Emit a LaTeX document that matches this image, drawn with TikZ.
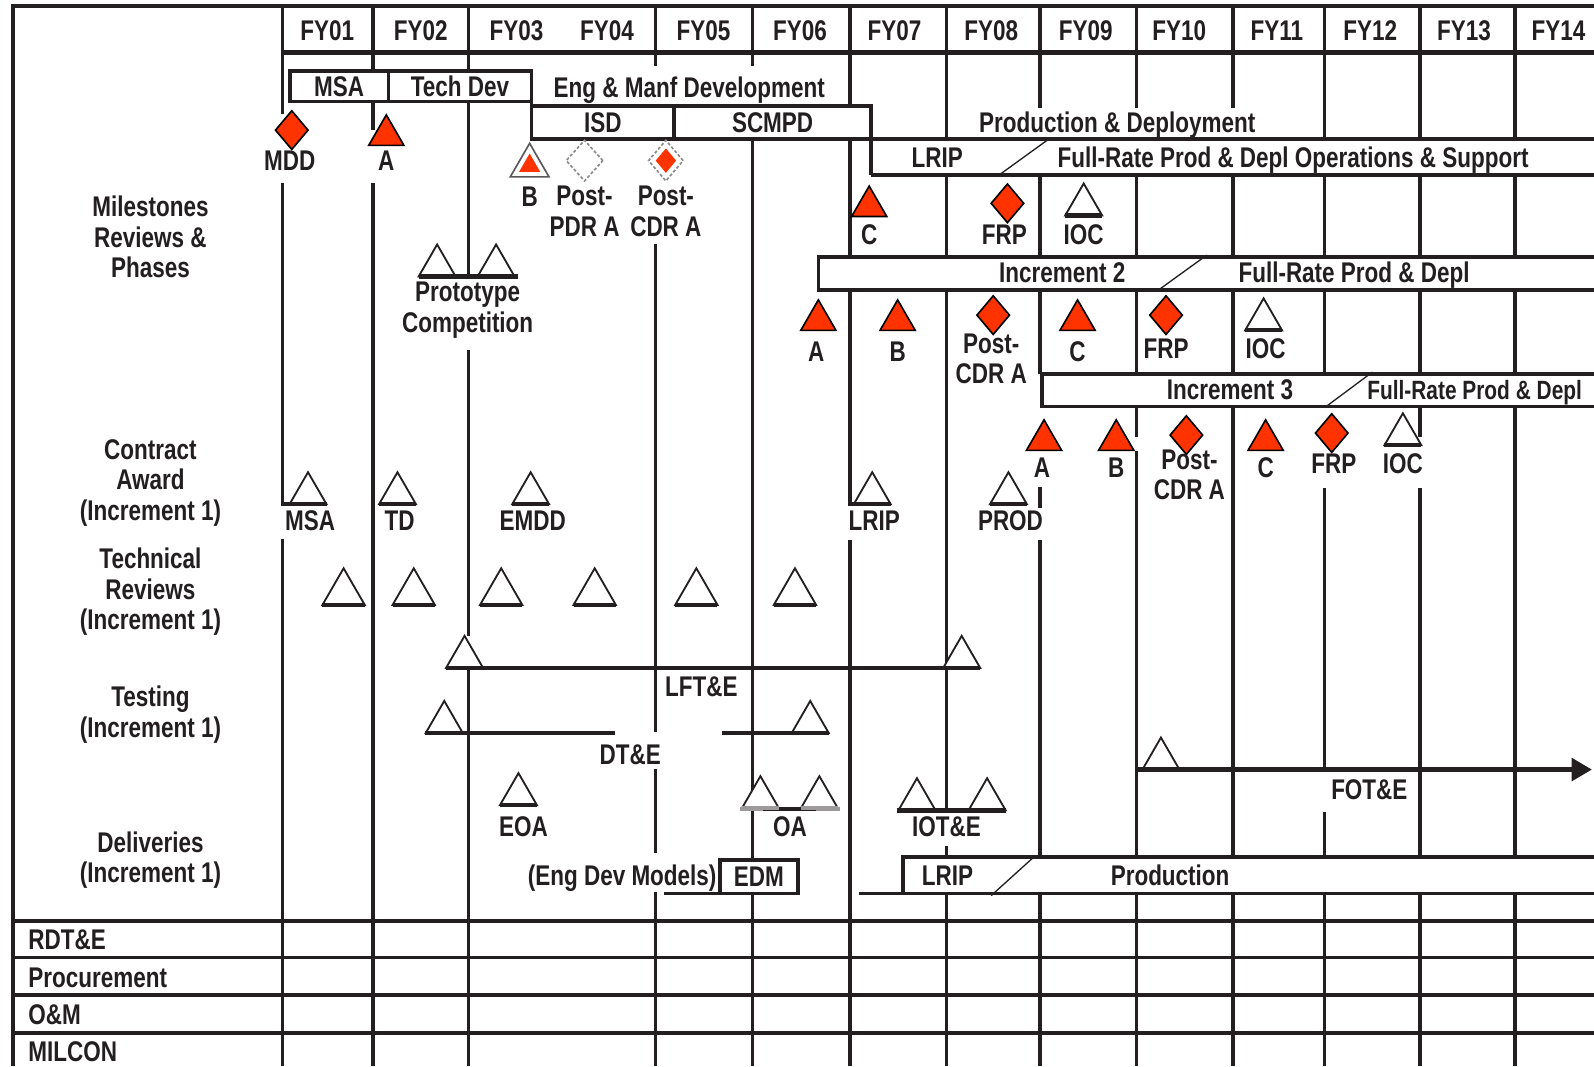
\documentclass[tikz,border=0pt]{standalone}
\usepackage{fontspec}
\setmainfont{Liberation Sans}[FakeStretch=0.79]
\usetikzlibrary{shapes.geometric,arrows.meta}
\definecolor{ink}{HTML}{231F20}
\definecolor{msred}{HTML}{FF3300}
\definecolor{dashgrey}{HTML}{8A8A8A}
\begin{document}
\begin{tikzpicture}[x=1pt,y=-1pt,
  every node/.style={inner sep=0pt, outer sep=0pt},
  lab/.style={font=\fontsize{28}{30}\selectfont\bfseries, text=ink, text height=20pt, text depth=0pt},
  mlab/.style={font=\fontsize{28}{30}\selectfont\bfseries, text=ink, align=center},
  gline/.style={draw=ink, line width=3.5pt},
  pbox/.style={draw=ink, line width=3.5pt, font=\fontsize{28}{30}\selectfont\bfseries, text=ink, text height=20pt, text depth=0pt},
  redtri/.style={regular polygon, regular polygon sides=3, minimum size=40pt, fill=msred, draw=black, line width=1.6pt},
  hollowtri/.style={regular polygon, regular polygon sides=3, minimum size=42pt, fill=white, draw=ink, line width=1.8pt},
  bigtri/.style={hollowtri, minimum size=48pt},
  reddia/.style={diamond, minimum width=32pt, minimum height=38pt, fill=msred, draw=black, line width=1.6pt},
  brk/.style={draw=ink, line width=1.3pt},
  tbar/.style={draw=ink, line width=4.5pt},
  tbase/.style={draw=ink, line width=4pt},
]
\useasboundingbox (0,0) rectangle (1568,1049);
\clip (0,0) rectangle (1568,1049);
\fill[white] (0,0) rectangle (1568,1049);

% ---------- frame and header ----------
\draw[gline, line width=4pt] (13,1049) -- (13,6) -- (1568,6);
\draw[gline, line width=5pt] (278,52) -- (1568,52);
\foreach \x in {278,367,461,645,740,836,931,1023,1118,1213,1303,1397,1490}
  \draw[gline] (\x,6) -- (\x,52);
\foreach \x/\t [count=\i] in {322/FY01,414/FY02,508/FY03,597/FY04,692/FY05,787/FY06,880/FY07,975/FY08,1068/FY09,1160/FY10,1256/FY11,1348/FY12,1440/FY13,1533/FY14}
  \node[lab] (fy\i) at (\x,30) {\t};

% ---------- column segments ----------
\foreach \x/\a/\b in {278/52/112, 278/530/1049,
  367/52/70, 367/100/128, 367/180/1049,
  461/52/70, 461/100/272, 461/344/626, 461/657/1049,
  645/52/65, 645/240/720, 645/756/839, 645/877/1049,
  740/52/65, 740/137/846, 740/879/1049,
  836/52/104, 836/137/253, 836/531/1049,
  931/52/137, 931/172/253, 931/285/797, 931/832/843, 931/879/1049,
  1023/52/106, 1023/172/253, 1023/285/368, 1023/479/500, 1023/531/843, 1023/879/1049,
  1118/52/106, 1118/172/253, 1118/285/368, 1118/400/430, 1118/444/843, 1118/879/1049,
  1213/52/106, 1213/172/253, 1213/285/368, 1213/400/843, 1213/879/1049,
  1303/52/137, 1303/172/253, 1303/285/368, 1303/480/757, 1303/799/843, 1303/879/1049,
  1397/52/137, 1397/172/253, 1397/285/368, 1397/400/430, 1397/480/843, 1397/879/1049,
  1490/52/137, 1490/172/253, 1490/285/368, 1490/400/843, 1490/879/1049}
  \draw[gline] (\x,\a) -- (\x,\b);
\draw[gline] (278,180) -- (278,496) -- (288,496);
\draw[gline] (836,285) -- (836,496) -- (842,496);

% ---------- funding rows ----------
\foreach \y in {906,942,979,1016}
  \draw[gline] (13,\y) -- (1568,\y);
\node[lab, anchor=west] (rdte) at (28,924) {RDT\&E};
\node[lab, anchor=west] (proc) at (28,961) {Procurement};
\node[lab, anchor=west] (oam) at (28,998) {O\&M};
\node[lab, anchor=west] (milcon) at (28,1034) {MILCON};

% ---------- row labels ----------
\node[mlab] (rMS) at (148,233) {Milestones\\Reviews \&\\Phases};
\node[mlab] (rCA) at (148,475) {Contract\\Award\\(Increment 1)};
\node[mlab] (rTR) at (148,582) {Technical\\Reviews\\(Increment 1)};
\node[mlab] (rTE) at (148,703) {Testing\\(Increment 1)};
\node[mlab] (rDL) at (148,846) {Deliveries\\(Increment 1)};

% ---------- phases ----------
\node[pbox, minimum width=97pt, minimum height=30pt] (msa) at (333.5,85) {MSA};
\node[pbox, minimum width=141pt, minimum height=30pt] (td) at (452.5,85) {Tech Dev};
\draw[gline] (td.north east) -- (523,137);
\node[lab] (emd) at (678,86) {Eng \& Manf Development};
\node[pbox, minimum width=140pt, minimum height=33pt] (isd) at (593,120.5) {ISD};
\node[pbox, minimum width=194pt, minimum height=33pt] (scmpd) at (760,120.5) {SCMPD};
\draw[gline] (scmpd.north east) -- (857,172);
\node[lab] (pd) at (1099,120) {Production \& Deployment};
\draw[gline] (857,137) -- (1568,137);
\draw[gline] (857,172) -- (1568,172);
\node[lab] (lrip1) at (922,155) {LRIP};
\node[lab] (frp1t) at (1272,155) {Full-Rate Prod \& Depl Operations \& Support};
\draw[brk] (983,172) -- (1030,138);

\draw[gline] (1568,253) -- (805,253) -- (805,285) -- (1568,285);
\node[lab] (inc2) at (1045,268) {Increment 2};
\node[lab] (inc2f) at (1332,268) {Full-Rate Prod \& Depl};
\draw[brk] (1140,285) -- (1187,251);

\draw[gline] (1568,368) -- (1025,368) -- (1025,400) -- (1568,400);
\node[lab] (inc3) at (1210,383) {Increment 3};
\node[lab, font=\fontsize{26}{28}\selectfont\bfseries, anchor=west] (inc3f) at (1345,383) {Full-Rate Prod \& Depl};
\draw[brk] (1303,401) -- (1350,366);

% ---------- milestones increment 1 ----------
\node[reddia] (mMDD) at (287,128) {};
\node[lab] (lMDD) at (285,158) {MDD};
\node[redtri] (mA1) at (380,133) {};
\node[lab] (lA1) at (380,158) {A};
\node[regular polygon, regular polygon sides=3, minimum size=44pt, fill=white, draw=ink!75, line width=1.6pt] (mB1) at (521,163) {};
\node[regular polygon, regular polygon sides=3, minimum size=24pt, fill=msred] (mB1in) at (521,163) {};
\node[lab] (lB1) at (521,193) {B};
\node[diamond, minimum width=36pt, minimum height=40pt, draw=dashgrey, densely dashed, line width=1.6pt] (mPDR) at (575,158) {};
\node[mlab] (lPDR) at (575,208) {Post-\\PDR A};
\node[diamond, minimum width=34pt, minimum height=40pt, draw=dashgrey, densely dashed, line width=1.6pt, fill=white] (mCDR1) at (655,158) {};
\node[diamond, minimum width=20pt, minimum height=24pt, fill=msred] (mCDR1in) at (655,158) {};
\node[mlab] (lCDR1) at (655,208) {Post-\\CDR A};
\node[redtri] (mC1) at (855,203) {};
\node[lab] (lC1) at (855,231) {C};
\node[reddia] (mF1) at (991,200) {};
\node[lab] (lF1) at (988,231) {FRP};
\node[hollowtri] (mI1) at (1066,201.5) {};
\node[lab] (lI1) at (1066,231) {IOC};

\node[hollowtri] (mP1) at (430,261.5) {};
\node[hollowtri] (mP2) at (488,261.5) {};
\draw[tbar] (418,272) -- (510,272);
\node[mlab] (lProto) at (460,305) {Prototype\\Competition};

% ---------- increment 2 ----------
\node[redtri] (mA2) at (805,315) {};
\node[lab] (lA2) at (803,346) {A};
\node[redtri] (mB2) at (883,315) {};
\node[lab] (lB2) at (883,346) {B};
\node[reddia] (mCDR2) at (977,310) {};
\node[mlab] (lCDR2) at (975,353) {Post-\\CDR A};
\node[redtri] (mC2) at (1060,315) {};
\node[lab] (lC2) at (1060,346) {C};
\node[reddia] (mF2) at (1147,310) {};
\node[lab] (lF2) at (1147,343) {FRP};
\node[hollowtri] (mI2) at (1243,314.5) {};
\node[lab] (lI2) at (1245,343) {IOC};

% ---------- increment 3 ----------
\node[redtri] (mA3) at (1027,433) {};
\node[lab] (lA3) at (1025,460) {A};
\node[redtri] (mB3) at (1098,433) {};
\node[lab] (lB3) at (1098,460) {B};
\node[reddia] (mCDR3) at (1167,428) {};
\node[mlab] (lCDR3) at (1170,467) {Post-\\CDR A};
\node[redtri] (mC3) at (1245,433) {};
\node[lab] (lC3) at (1245,460) {C};
\node[reddia] (mF3) at (1310,426) {};
\node[lab] (lF3) at (1312,456) {FRP};
\node[hollowtri] (mI3) at (1380,427.5) {};
\node[lab] (lI3) at (1380,456) {IOC};

% ---------- contract award ----------
\foreach \x/\t/\n in {303/MSA/ca1, 391/TD/ca2, 522/EMDD/ca3, 858/LRIP/ca4, 992/PROD/ca5}{
  \node[hollowtri] (\n) at (\x,485.5) {};
  \node[lab] (\n l) at (\x+2,512) {\t};
}

% ---------- technical reviews ----------
\foreach \x [count=\i] in {338,407,493,585,685,782}
  \node[bigtri] (tr\i) at (\x,583) {};

% ---------- testing ----------
\node[hollowtri] (lft1) at (457,646.5) {};
\node[hollowtri] (lft2) at (946,646.5) {};
\draw[tbar] (440,657) -- (962,657);
\node[lab] (lLFT) at (690,675) {LFT\&E};
\node[hollowtri] (dt1) at (437,710.5) {};
\node[hollowtri] (dt2) at (797,710.5) {};
\draw[tbar] (418,721) -- (605,721);
\draw[tbar] (710,721) -- (815,721);
\node[lab] (lDT) at (620,742) {DT\&E};
\node[hollowtri] (eoa) at (510,781.5) {};
\node[lab] (lEOA) at (515,813) {EOA};
\node[hollowtri] (oa1) at (748,784.5) {};
\node[hollowtri] (oa2) at (806,784.5) {};
\draw[draw=ink!45, line width=4pt] (728,796) -- (826,796);
\draw[tbar] (751,796) -- (803,796);
\node[lab] (lOA) at (777,813) {OA};
\node[hollowtri] (iot1) at (902,786.5) {};
\node[hollowtri] (iot2) at (971,786.5) {};
\draw[tbar] (882,797) -- (990,797);
\node[lab] (lIOT) at (931,813) {IOT\&E};
\node[hollowtri] (fot) at (1142,746.5) {};
\draw[tbar, -{Triangle[length=20pt,width=22pt]}] (1118,757) -- (1566,757);
\node[lab] (lFOT) at (1347,776) {FOT\&E};

\foreach \n in {mI1,mP1,mP2,mI2,mI3,ca1,ca2,ca3,ca4,ca5,tr1,tr2,tr3,tr4,tr5,tr6,lft1,lft2,dt1,dt2,eoa,iot1,iot2,fot}
  \draw[tbase] (\n.corner 2) -- (\n.corner 3);
\foreach \n in {oa1,oa2}
  \draw[draw=ink!45, line width=4pt] (\n.corner 2) -- (\n.corner 3);

% ---------- deliveries ----------
\node[lab] (edmt) at (612,861) {(Eng Dev Models)};
\node[pbox, minimum width=77pt, minimum height=33pt] (edm) at (746.5,862.5) {EDM};
\draw[gline] (653,879) -- (edm.south west);
\draw[gline] (845,879) -- (1568,879);
\draw[gline] (1568,843) -- (888,843) -- (888,879);
\node[lab] (lripd) at (932,861) {LRIP};
\node[lab] (prodd) at (1151,861) {Production};
\draw[brk] (975,881) -- (1017,843);
\end{tikzpicture}
\end{document}
